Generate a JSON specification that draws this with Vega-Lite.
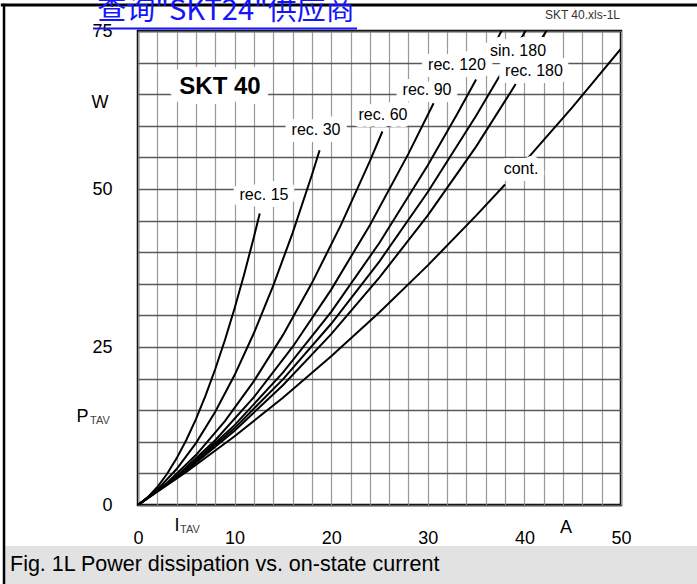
{
  "$schema": "https://vega.github.io/schema/vega-lite/v6.json",
  "width": 483,
  "height": 474,
  "autosize": {"type": "none"},
  "padding": {"left": 138, "top": 31, "right": 76, "bottom": 79},
  "background": "white",
  "config": {
    "view": {"stroke": "black", "strokeWidth": 2.5},
    "font": "Liberation Sans",
    "text": {"font": "Liberation Sans"},
    "axisX": {
      "zindex": 0,
      "format": "d",
      "labelExpr": "datum.value % 10 === 0 ? datum.label : ''",
      "grid": true, "gridColor": "#999999", "gridWidth": 1.2, "gridOpacity": 1,
      "ticks": false, "tickSize": 0, "domain": false,
      "labelFontSize": 18, "labelColor": "black", "labelFont": "Liberation Sans",
      "labelPadding": 24, "labelFlush": false, "labelBound": false, "labelOverlap": false
    },
    "axisY": {
      "zindex": 0,
      "format": "d",
      "labelExpr": "datum.value % 25 === 0 ? datum.label : ''",
      "grid": true, "gridColor": "#5a5a5a", "gridWidth": 1.3, "gridOpacity": 1,
      "ticks": false, "tickSize": 0, "domain": false,
      "labelFontSize": 18, "labelColor": "black", "labelFont": "Liberation Sans",
      "labelPadding": 26, "labelFlush": false, "labelBound": false, "labelOverlap": false, "labelBaseline": "middle"
    }
  },
  "datasets": {
    "curves": [
      {"s": "r15", "I": 0, "P": 0}, {"s": "r15", "I": 1, "P": 1.21}, {"s": "r15", "I": 2, "P": 2.84}, {"s": "r15", "I": 3, "P": 4.9}, {"s": "r15", "I": 4, "P": 7.38}, {"s": "r15", "I": 5, "P": 10.28}, {"s": "r15", "I": 6, "P": 13.6}, {"s": "r15", "I": 7, "P": 17.35}, {"s": "r15", "I": 8, "P": 21.52}, {"s": "r15", "I": 9, "P": 26.11}, {"s": "r15", "I": 10, "P": 31.12}, {"s": "r15", "I": 11, "P": 36.56}, {"s": "r15", "I": 12, "P": 42.41}, {"s": "r15", "I": 12.6, "P": 46.13},
      {"s": "r30", "I": 0, "P": 0}, {"s": "r30", "I": 2, "P": 2.42}, {"s": "r30", "I": 4, "P": 5.69}, {"s": "r30", "I": 6, "P": 9.8}, {"s": "r30", "I": 8, "P": 14.76}, {"s": "r30", "I": 10, "P": 20.56}, {"s": "r30", "I": 12, "P": 27.21}, {"s": "r30", "I": 14, "P": 34.7}, {"s": "r30", "I": 16, "P": 43.03}, {"s": "r30", "I": 18, "P": 52.21}, {"s": "r30", "I": 18.8, "P": 56.12},
      {"s": "r60", "I": 0, "P": 0}, {"s": "r60", "I": 3, "P": 3.48}, {"s": "r60", "I": 6, "P": 7.9}, {"s": "r60", "I": 9, "P": 13.28}, {"s": "r60", "I": 12, "P": 19.6}, {"s": "r60", "I": 15, "P": 26.88}, {"s": "r60", "I": 18, "P": 35.11}, {"s": "r60", "I": 21, "P": 44.28}, {"s": "r60", "I": 24, "P": 54.41}, {"s": "r60", "I": 25.3, "P": 59.1},
      {"s": "r90", "I": 0, "P": 0}, {"s": "r90", "I": 4, "P": 4.56}, {"s": "r90", "I": 8, "P": 10.25}, {"s": "r90", "I": 12, "P": 17.07}, {"s": "r90", "I": 16, "P": 25.01}, {"s": "r90", "I": 20, "P": 34.08}, {"s": "r90", "I": 24, "P": 44.28}, {"s": "r90", "I": 28, "P": 55.6}, {"s": "r90", "I": 30.6, "P": 63.56},
      {"s": "r90b", "I": 31.7, "P": 67.07}, {"s": "r90b", "I": 32.0, "P": 68.04},
      {"s": "r120", "I": 0, "P": 0}, {"s": "r120", "I": 5, "P": 5.66}, {"s": "r120", "I": 10, "P": 12.64}, {"s": "r120", "I": 15, "P": 20.94}, {"s": "r120", "I": 20, "P": 30.56}, {"s": "r120", "I": 25, "P": 41.5}, {"s": "r120", "I": 30, "P": 53.76}, {"s": "r120", "I": 33, "P": 61.75}, {"s": "r120", "I": 35, "P": 67.34},
      {"s": "r120b", "I": 37.1, "P": 73.44}, {"s": "r120b", "I": 37.7, "P": 75.22},
      {"s": "s180", "I": 0, "P": 0}, {"s": "s180", "I": 5, "P": 5.54}, {"s": "s180", "I": 10, "P": 12.17}, {"s": "s180", "I": 15, "P": 19.88}, {"s": "s180", "I": 20, "P": 28.68}, {"s": "s180", "I": 25, "P": 38.56}, {"s": "s180", "I": 30, "P": 49.53}, {"s": "s180", "I": 35, "P": 61.58}, {"s": "s180", "I": 38.3, "P": 70.13},
      {"s": "s180b", "I": 39.6, "P": 73.63}, {"s": "s180b", "I": 40.2, "P": 75.27},
      {"s": "r180", "I": 0, "P": 0}, {"s": "r180", "I": 5, "P": 5.44}, {"s": "r180", "I": 10, "P": 11.76}, {"s": "r180", "I": 15, "P": 18.96}, {"s": "r180", "I": 20, "P": 27.04}, {"s": "r180", "I": 25, "P": 36.0}, {"s": "r180", "I": 30, "P": 45.84}, {"s": "r180", "I": 35, "P": 56.7}, {"s": "r180", "I": 39.1, "P": 66.6},
      {"s": "r180b", "I": 41.7, "P": 73.6}, {"s": "r180b", "I": 42.4, "P": 75.3},
      {"s": "c", "I": 0, "P": 0}, {"s": "c", "I": 5, "P": 5.22}, {"s": "c", "I": 10, "P": 10.88}, {"s": "c", "I": 15, "P": 16.98}, {"s": "c", "I": 20, "P": 23.52}, {"s": "c", "I": 25, "P": 30.5}, {"s": "c", "I": 30, "P": 37.92}, {"s": "c", "I": 35, "P": 45.78}, {"s": "c", "I": 38, "P": 50.71},
      {"s": "cb", "I": 40.2, "P": 54.6}, {"s": "cb", "I": 45, "P": 63.0}, {"s": "cb", "I": 50, "P": 72.2}
    ],
    "labels": [
      {"t": "rec. 15", "I": 13.04, "P": 49.05},
      {"t": "rec. 30", "I": 18.43, "P": 59.3},
      {"t": "rec. 60", "I": 25.36, "P": 61.7},
      {"t": "rec. 90", "I": 29.92, "P": 65.66},
      {"t": "rec. 120", "I": 33.02, "P": 69.6},
      {"t": "sin. 180", "I": 39.34, "P": 71.8},
      {"t": "rec. 180", "I": 40.99, "P": 68.7},
      {"t": "cont.", "I": 39.65, "P": 53.2}
    ]
  },
  "layer": [
    {
      "data": {"name": "curves"},
      "mark": {"type": "line", "color": "black", "strokeWidth": 2, "clip": true},
      "encoding": {
        "x": {
          "field": "I", "type": "quantitative",
          "scale": {"domain": [0, 50], "nice": false},
          "axis": {"title": null, "zindex": 0, "format": "d", "tickCount": 200, "values": [0, 2, 4, 6, 8, 10, 12, 14, 16, 18, 20, 22, 24, 26, 28, 30, 32, 34, 36, 38, 40, 42, 44, 46, 48, 50]}
        },
        "y": {
          "field": "P", "type": "quantitative",
          "scale": {"domain": [0, 75], "nice": false},
          "axis": {"title": null, "zindex": 0, "format": "d", "tickCount": 200, "values": [0, 5, 10, 15, 20, 25, 30, 35, 40, 45, 50, 55, 60, 65, 70, 75]}
        },
        "detail": {"field": "s"}
      }
    },
    {
      "data": {"values": [{"I": -13.77, "I2": 60, "P": -6.49, "P2": -13}]},
      "mark": {"type": "rect", "color": "#e2e2e2"},
      "encoding": {
        "x": {"field": "I", "type": "quantitative"},
        "x2": {"field": "I2"},
        "y": {"field": "P", "type": "quantitative"},
        "y2": {"field": "P2"}
      }
    },
    {
      "data": {"values": [{"I": -14.2, "I2": 60, "P": 79.1}]},
      "mark": {"type": "rule", "color": "black", "strokeWidth": 3},
      "encoding": {
        "x": {"field": "I", "type": "quantitative"},
        "x2": {"field": "I2"},
        "y": {"field": "P", "type": "quantitative"}
      }
    },
    {
      "data": {"values": [{"I": -13.87, "P": 79.3, "P2": -13}]},
      "mark": {"type": "rule", "color": "black", "strokeWidth": 2.5},
      "encoding": {
        "x": {"field": "I", "type": "quantitative"},
        "y": {"field": "P", "type": "quantitative"},
        "y2": {"field": "P2"}
      }
    },
    {
      "data": {"values": [{"t": "Fig. 1L Power dissipation vs. on-state current", "I": -13.25, "P": -9.49}]},
      "mark": {"type": "text", "align": "left", "baseline": "middle", "fontSize": 21.5, "color": "black"},
      "encoding": {
        "x": {"field": "I", "type": "quantitative"},
        "y": {"field": "P", "type": "quantitative"},
        "text": {"field": "t"}
      }
    },
    {
      "data": {"name": "labels"},
      "mark": {"type": "text", "fontSize": 16, "stroke": "#ffffff", "strokeWidth": 14, "strokeJoin": "round", "strokeOpacity": 1, "fill": "#ffffff", "fillOpacity": 1, "opacity": 1, "align": "center", "baseline": "middle"},
      "encoding": {
        "x": {"field": "I", "type": "quantitative"},
        "y": {"field": "P", "type": "quantitative"},
        "text": {"field": "t"}
      }
    },
    {
      "data": {"name": "labels"},
      "mark": {"type": "text", "fontSize": 16, "color": "black", "align": "center", "baseline": "middle"},
      "encoding": {
        "x": {"field": "I", "type": "quantitative"},
        "y": {"field": "P", "type": "quantitative"},
        "text": {"field": "t"}
      }
    },
    {
      "data": {"values": [{"t": "SKT 40", "I": 8.49, "P": 66.1}]},
      "mark": {"type": "text", "fontSize": 24, "fontWeight": "bold", "stroke": "#ffffff", "strokeWidth": 20, "strokeJoin": "round", "strokeOpacity": 1, "fill": "#ffffff", "fillOpacity": 1, "opacity": 1, "align": "center", "baseline": "middle"},
      "encoding": {
        "x": {"field": "I", "type": "quantitative"},
        "y": {"field": "P", "type": "quantitative"},
        "text": {"field": "t"}
      }
    },
    {
      "data": {"values": [{"t": "SKT 40", "I": 8.49, "P": 66.1}]},
      "mark": {"type": "text", "fontSize": 24, "fontWeight": "bold", "color": "black", "align": "center", "baseline": "middle"},
      "encoding": {
        "x": {"field": "I", "type": "quantitative"},
        "y": {"field": "P", "type": "quantitative"},
        "text": {"field": "t"}
      }
    },
    {
      "data": {"values": [
        {"t": "W", "I": -3.93, "P": 63.6},
        {"t": "P", "I": -5.75, "P": 13.9},
        {"t": "I", "I": 4.04, "P": -3.32},
        {"t": "A", "I": 44.3, "P": -3.64}
      ]},
      "mark": {"type": "text", "fontSize": 18, "color": "black", "align": "center", "baseline": "middle"},
      "encoding": {
        "x": {"field": "I", "type": "quantitative"},
        "y": {"field": "P", "type": "quantitative"},
        "text": {"field": "t"}
      }
    },
    {
      "data": {"values": [
        {"t": "TAV", "I": -4.97, "P": 13.3},
        {"t": "TAV", "I": 4.35, "P": -3.96}
      ]},
      "mark": {"type": "text", "fontSize": 11, "color": "#444444", "align": "left", "baseline": "middle"},
      "encoding": {
        "x": {"field": "I", "type": "quantitative"},
        "y": {"field": "P", "type": "quantitative"},
        "text": {"field": "t"}
      }
    },
    {
      "data": {"values": [{"t": "SKT 40.xls-1L", "I": 49.9, "P": 77.5}]},
      "mark": {"type": "text", "fontSize": 12, "color": "#333333", "align": "right", "baseline": "middle"},
      "encoding": {
        "x": {"field": "I", "type": "quantitative"},
        "y": {"field": "P", "type": "quantitative"},
        "text": {"field": "t"}
      }
    },
    {
      "data": {"values": [{"t": "查询\"SKT24\"供应商", "I": 9.11, "P": 78.2}]},
      "mark": {"type": "text", "fontSize": 29, "color": "#1414ff", "font": "Noto Sans CJK SC", "align": "center", "baseline": "middle"},
      "encoding": {
        "x": {"field": "I", "type": "quantitative"},
        "y": {"field": "P", "type": "quantitative"},
        "text": {"field": "t"}
      }
    },
    {
      "data": {"values": [{"I": -4.66, "I2": 22.67, "P": 75.4}]},
      "mark": {"type": "rule", "color": "#1414ff", "strokeWidth": 2},
      "encoding": {
        "x": {"field": "I", "type": "quantitative"},
        "x2": {"field": "I2"},
        "y": {"field": "P", "type": "quantitative"}
      }
    }
  ]
}
